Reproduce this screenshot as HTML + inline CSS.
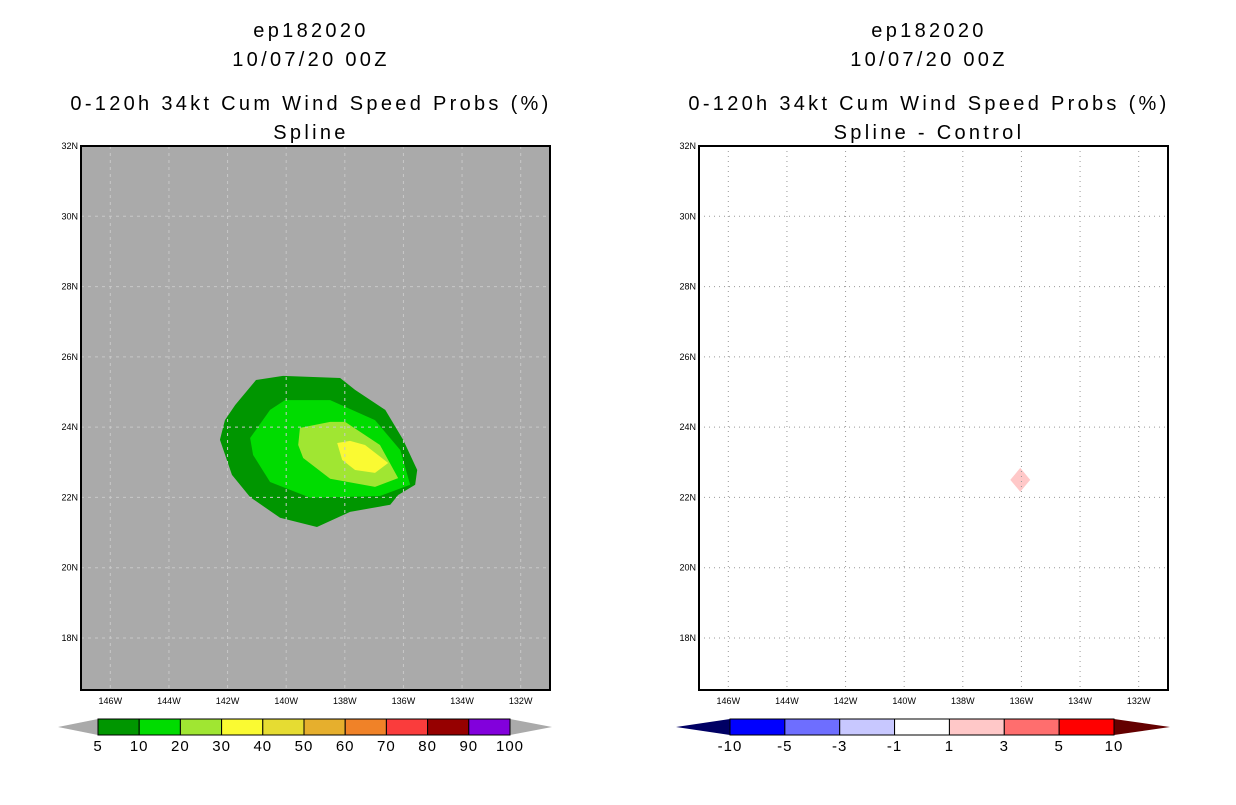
<!DOCTYPE html>
<html><head><meta charset="utf-8"><style>
body{margin:0;background:#fff;}
svg text{font-family:"Liberation Sans",sans-serif;}
.tt{letter-spacing:3.3px;}
</style></head><body>
<svg id="s" width="1236" height="800" xmlns="http://www.w3.org/2000/svg">
<g font-size="20" text-anchor="middle" fill="#000" class="tt">
<text x="311" y="37">ep182020</text><text x="311" y="66">10/07/20 00Z</text>
<text x="311" y="110">0-120h 34kt Cum Wind Speed Probs (%)</text><text x="311" y="139">Spline</text></g>
<g font-size="20" text-anchor="middle" fill="#000" class="tt">
<text x="929" y="37">ep182020</text><text x="929" y="66">10/07/20 00Z</text>
<text x="929" y="110">0-120h 34kt Cum Wind Speed Probs (%)</text><text x="929" y="139">Spline - Control</text></g>
</svg>
<script>
const lonTicks=[-146,-144,-142,-140,-138,-136,-134,-132];
const latTicks=[18,20,22,24,26,28,30,32];
const c5Lon=[-141.03,-140.11,-138.16,-137.65,-136.62,-136.01,-135.53,-135.60,-136.18,-136.45,-137.82,-138.95,-140.21,-141.23,-141.85,-142.26,-142.09,-141.74];
const c5Lat=[25.34,25.46,25.40,25.06,24.49,23.64,22.78,22.36,22.07,21.79,21.59,21.16,21.42,22.01,22.64,23.64,24.20,24.63];
const c10Lon=[-140.04,-138.50,-136.97,-136.11,-135.77,-136.80,-139.18,-140.55,-141.13,-141.23,-140.55];
const c10Lat=[24.77,24.77,24.20,23.35,22.36,22.04,21.99,22.44,23.21,23.69,24.49];
const c20Lon=[-139.53,-138.50,-137.99,-136.80,-136.18,-136.97,-138.50,-139.42,-139.59];
const c20Lat=[23.98,24.15,24.15,23.49,22.55,22.30,22.53,23.12,23.49];
const c30Lon=[-138.26,-137.82,-137.31,-136.52,-136.97,-137.65,-138.09];
const c30Lat=[23.55,23.61,23.49,22.98,22.70,22.78,23.07];
const diffLon=[-136.04,-135.70,-136.04,-136.38];
const diffLat=[22.84,22.50,22.16,22.50];
const probLevels=['5','10','20','30','40','50','60','70','80','90','100'];
const probColors=['#009600','#00dc00','#a0e632','#fafa32','#e6dc32','#e6af2d','#f08228','#fa3c3c','#960000','#8200dc'];
const diffLevels=['-10','-5','-3','-1','1','3','5','10'];
const diffColors=['#0000ff','#6e6eff','#c8c8ff','#ffffff','#ffc8c8','#ff6e6e','#ff0000'];

const svg=document.getElementById('s');const NS='http://www.w3.org/2000/svg';
function mk(t,a,p){const e=document.createElementNS(NS,t);for(const k in a)e.setAttribute(k,a[k]);(p||svg).appendChild(e);return e;}
const W=469,H=544,LON0=-147,LON1=-131,LAT0=16.52,LAT1=32;
function panel(x0,name,bg){
 const g=mk('g',{});
 
 
 const X=l=>x0+(l-LON0)/(LON1-LON0)*W, Y=l=>146+(LAT1-l)/(LAT1-LAT0)*H;
 const r=mk('rect',{x:x0,y:146,width:W,height:H,fill:bg},g);
 
 
 return {g,X,Y};
}
function poly(p,lons,lats,fill,name){
 const pts=lons.map((l,i)=>p.X(l)+','+p.Y(lats[i])).join(' ');
 const e=mk('polygon',{points:pts,fill:fill},p.g);
 
 
}
function gridAxes(p,x0,gc,da){
 lonTicks.forEach(l=>{const x=p.X(l);
  const e=mk('line',{x1:x,x2:x,y1:146,y2:690,stroke:gc,'stroke-dasharray':da},p.g);
  
  
  const t=mk('text',{x:x,y:704,'font-size':9,'text-anchor':'middle'},p.g);t.textContent=(-l)+'W';
  
  });
 latTicks.forEach(l=>{const y=p.Y(l);
  const e=mk('line',{x1:x0,x2:x0+W,y1:y,y2:y,stroke:gc,'stroke-dasharray':da},p.g);
  
  
  const t=mk('text',{x:x0-3,y:y+3,'font-size':9,'text-anchor':'end'},p.g);t.textContent=l+'N';
  
  });
 const b=mk('rect',{x:x0,y:146,width:W,height:H,fill:'none',stroke:'#000','stroke-width':2},p.g);
 
 
}
function colorbar(x0,x1,tipL,tipR,cols,labs,lc,rc,name){
 const g=mk('g',{});
 
 
 const y=719,h=16,w=(x1-x0)/cols.length;
 const a=mk('polygon',{points:`${tipL},${y+h/2} ${x0},${y} ${x0},${y+h}`,fill:lc},g);
 
 
 const b=mk('polygon',{points:`${tipR},${y+h/2} ${x1},${y} ${x1},${y+h}`,fill:rc},g);
 
 
 cols.forEach((c,i)=>{const r=mk('rect',{x:x0+i*w,y:y,width:w,height:h,fill:c,stroke:'#000','stroke-width':1},g);
  
  });
 labs.forEach((t,i)=>{const e=mk('text',{x:x0+i*w,y:751,'font-size':15,'text-anchor':'middle','letter-spacing':'1px'},g);e.textContent=t;
  
  });
}
const L=panel(81,'left-map','#aaaaaa');
poly(L,c5Lon,c5Lat,probColors[0],'contour-5');
poly(L,c10Lon,c10Lat,probColors[1],'contour-10');
poly(L,c20Lon,c20Lat,probColors[2],'contour-20');
poly(L,c30Lon,c30Lat,probColors[3],'contour-30');
gridAxes(L,81,'#c8c8c8','3,4');
const R=panel(699,'right-map','#ffffff');
poly(R,diffLon,diffLat,'#ffc8c8','diff-area');
gridAxes(R,699,'#999999','1,4');
colorbar(98,510,58,552,probColors,probLevels,'#aaaaaa','#aaaaaa','left-colorbar');
colorbar(730,1114,676,1170,diffColors,diffLevels,'#000064','#640000','right-colorbar');
</script>
</body></html>
